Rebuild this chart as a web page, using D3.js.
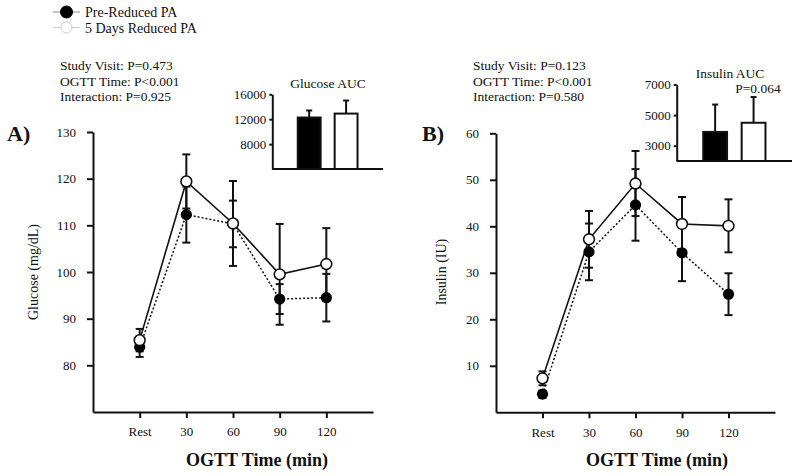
<!DOCTYPE html>
<html><head><meta charset="utf-8">
<script src="https://cdn.jsdelivr.net/npm/d3@7"></script>
<style>body{margin:0;background:#fff}svg{display:block}text{font-family:"Liberation Serif","Times New Roman",serif;fill:#111}</style>
</head><body><svg id="c" width="800" height="476"></svg>
<script>
// ---------- data ----------
const timeLabels = ["Rest","30","60","90","120"];
const seriesNames = ["Pre-Reduced PA","5 Days Reduced PA"];
// Glucose (mg/dL)
const glucosePre = [83.9,112.3,110.3,94.2,94.5];
const glucosePreErr = [2.1,6.0,5.0,3.2,5.1];
const glucosePost = [85.4,119.4,110.4,99.5,101.7];
const glucosePostErr = [2.4,5.8,9.1,10.8,7.7];
// Insulin (IU)
const insulinPre = [3.9,34.5,44.6,34.3,25.4];
const insulinPreErr = [0.8,6.1,7.7,6.1,4.5];
const insulinPost = [7.3,37.2,49.2,40.5,40.1];
const insulinPostErr = [1.5,6.1,7.0,5.8,5.7];
// AUC insets
const glucoseAUC = [12270,12900];
const glucoseAUCErr = [1130,2100];
const insulinAUC = [3900,4500];
const insulinAUCErr = [1790,1680];
const glucoseTicks = [80,90,100,110,120,130];
const insulinTicks = [10,20,30,40,50,60];
const glucoseAUCTicks = [8000,12000,16000];
const insulinAUCTicks = [3000,5000,7000];
const statsA = ["Study Visit: P=0.473","OGTT Time: P<0.001","Interaction: P=0.925"];
const statsB = ["Study Visit: P=0.123","OGTT Time: P<0.001","Interaction: P=0.580"];

const svg = d3.select("#c");

function mainPanel(o){
  const g = svg.append("g");
  const x = d3.scaleLinear().domain([-1,5]).range(o.xr);
  const y = d3.scaleLinear().domain(o.yd).range(o.yr);
  const ax = g.append("g").attr("transform",`translate(0,${o.yr[0]})`)
    .call(d3.axisBottom(x).tickValues([0,1,2,3,4]).tickFormat(i=>timeLabels[i]).tickSize(6).tickSizeOuter(0).tickPadding(9));
  const ay = g.append("g").attr("transform",`translate(${o.xr[0]},0)`)
    .call(d3.axisLeft(y).tickValues(o.ticks).tickSize(6).tickSizeOuter(0).tickPadding(11));
  [ax,ay].forEach(a=>{a.selectAll("path,line").attr("stroke","#111").attr("stroke-width",2);
    a.selectAll("text").attr("font-size",13).attr("font-family","Liberation Serif").attr("fill","#111");});
  const line = d3.line().x((d,i)=>x(i)).y(d=>y(d));
  g.append("path").datum(o.pre).attr("d",line).attr("fill","none").attr("stroke","#111").attr("stroke-width",1.5).attr("stroke-dasharray","2,2");
  g.append("path").datum(o.post).attr("d",line).attr("fill","none").attr("stroke","#111").attr("stroke-width",1.6);
  [[o.pre,o.preErr],[o.post,o.postErr]].forEach(([v,e])=>{
    v.forEach((d,i)=>{
      const cx=x(i), y1=y(d+e[i]), y2=y(d-e[i]);
      g.append("line").attr("x1",cx).attr("x2",cx).attr("y1",y1).attr("y2",y2).attr("stroke","#111").attr("stroke-width",2);
      [y1,y2].forEach(yy=>g.append("line").attr("x1",cx-4).attr("x2",cx+4).attr("y1",yy).attr("y2",yy).attr("stroke","#111").attr("stroke-width",2));
    });
  });
  g.selectAll(null).data(o.pre).enter().append("circle").attr("cx",(d,i)=>x(i)).attr("cy",d=>y(d)).attr("r",5.6).attr("fill","#000");
  g.selectAll(null).data(o.post).enter().append("circle").attr("cx",(d,i)=>x(i)).attr("cy",d=>y(d)).attr("r",5.4).attr("fill","#fff").attr("stroke","#111").attr("stroke-width",1.6);
  g.append("text").attr("x",o.titleX).attr("y",466).attr("text-anchor","middle").attr("font-size",18).attr("font-weight","bold").text("OGTT Time (min)");
  g.append("text").attr("transform",`translate(${o.ylabX},272) rotate(-90)`).attr("text-anchor","middle").attr("font-size",14).text(o.ylab);
  g.append("text").attr("x",o.letterX).attr("y",141).attr("font-size",22).attr("font-weight","bold").text(o.letter);
  o.stats.forEach((s,i)=>g.append("text").attr("x",o.statsX).attr("y",70+i*15.5).attr("font-size",13.5).text(s));
}

function inset(o){
  const g = svg.append("g");
  const x = d3.scaleLinear().domain([0,3]).range(o.xr);
  const y = d3.scaleLinear().domain(o.yd).range(o.yr);
  const w = x(0.62)-x(0);
  const ay = g.append("g").attr("transform",`translate(${o.xr[0]},0)`)
    .call(d3.axisLeft(y).tickValues(o.ticks).tickFormat(d3.format("d")).tickSize(3).tickSizeOuter(0).tickPadding(3));
  ay.selectAll("path,line").attr("stroke","#111").attr("stroke-width",2);
  ay.selectAll("text").attr("font-size",13).attr("font-family","Liberation Serif").attr("fill","#111");
  g.append("line").attr("x1",o.xr[0]).attr("x2",o.xr[1]).attr("y1",o.yr[0]).attr("y2",o.yr[0]).attr("stroke","#111").attr("stroke-width",2);
  o.vals.forEach((v,i)=>{
    const cx=x(i+1);
    g.append("line").attr("x1",cx).attr("x2",cx).attr("y1",y(v)).attr("y2",y(v+o.err[i])).attr("stroke","#111").attr("stroke-width",2);
    g.append("line").attr("x1",cx-3).attr("x2",cx+3).attr("y1",y(v+o.err[i])).attr("y2",y(v+o.err[i])).attr("stroke","#111").attr("stroke-width",2);
    g.append("rect").attr("x",cx-w/2).attr("y",y(v)).attr("width",w).attr("height",o.yr[0]-y(v))
      .attr("fill",i===0?"#000":"#fff").attr("stroke","#111").attr("stroke-width",2);
  });
  g.append("text").attr("x",o.titleX).attr("y",o.titleY).attr("text-anchor","middle").attr("font-size",13.5).text(o.title);
  if(o.p) g.append("text").attr("x",o.p[0]).attr("y",o.p[1]).attr("text-anchor","middle").attr("font-size",13.5).text(o.p[2]);
}

mainPanel({xr:[93,373],yd:[70,130],yr:[412,132],ticks:glucoseTicks,pre:glucosePre,preErr:glucosePreErr,post:glucosePost,postErr:glucosePostErr,
  titleX:257,ylab:"Glucose (mg/dL)",ylabX:38,letter:"A)",letterX:7,stats:statsA,statsX:60});
mainPanel({xr:[496,775],yd:[0,60],yr:[412.3,133.3],ticks:insulinTicks,pre:insulinPre,preErr:insulinPreErr,post:insulinPost,postErr:insulinPostErr,
  titleX:657,ylab:"Insulin (IU)",ylabX:446,letter:"B)",letterX:422,stats:statsB,statsX:473});
inset({xr:[272.3,383],yd:[4000,16000],yr:[169,94.3],ticks:glucoseAUCTicks,vals:glucoseAUC,err:glucoseAUCErr,title:"Glucose AUC",titleX:328,titleY:88});
inset({xr:[676.7,792],yd:[2000,7000],yr:[161,84.5],ticks:insulinAUCTicks,vals:insulinAUC,err:insulinAUCErr,title:"Insulin AUC",titleX:730,titleY:78,p:[758,93,"P=0.064"]});

// legend
const leg = svg.append("g");
[["#000","#888",12],["#fff","#ccc",27.5]].forEach(([fill,stroke,yy],i)=>{
  leg.append("line").attr("x1",53).attr("x2",80).attr("y1",yy).attr("y2",yy).attr("stroke",stroke).attr("stroke-width",1);
  leg.append("circle").attr("cx",66.5).attr("cy",yy).attr("r",i===0?6:5.5).attr("fill",fill).attr("stroke",i===0?"#000":"#ccc");
  leg.append("text").attr("x",85).attr("y",yy+5).attr("font-size",14).text(seriesNames[i]);
});
</script></body></html>
